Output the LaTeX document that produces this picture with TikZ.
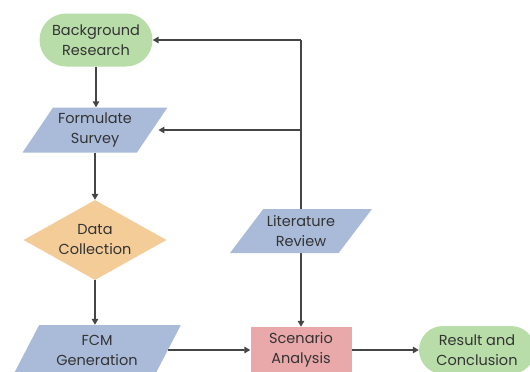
\documentclass[tikz,border=0pt]{standalone}
\usepackage{fontspec}
\setmainfont{Poppins}
\usetikzlibrary{shapes.geometric,arrows.meta,backgrounds}
\definecolor{grn}{HTML}{B9DDA9}
\definecolor{blu}{HTML}{AABBDA}
\definecolor{org}{HTML}{F3CC98}
\definecolor{pnk}{HTML}{E9A8AA}
\definecolor{ln}{HTML}{454545}
\definecolor{txt}{HTML}{333333}
\begin{document}
\begin{tikzpicture}[x=1pt,y=-1pt,
  every node/.style={font=\fontsize{14.5}{20}\selectfont, text=txt, align=center, inner sep=0pt},
  term/.style={rectangle, fill=grn},
  para/.style={trapezium, trapezium stretches=true, fill=blu},
  dec/.style={diamond, fill=org, aspect=1.79, inner sep=-12pt, minimum width=143pt, minimum height=80pt},
  proc/.style={rectangle, fill=pnk, minimum width=101pt, minimum height=46pt},
  con/.style={draw=ln, line width=1.8pt},
  arr/.style={con, -{Triangle[length=6pt,width=6.5pt]}}]
\clip (0,0) rectangle (530,372);
\node[term, rounded corners=26.5pt, minimum width=113pt, minimum height=53pt] (bg) at (96,40) {Background\\Research};
\node[para, trapezium left angle=52, trapezium right angle=128, minimum width=145pt, minimum height=45pt] (fs) at (95,130) {Formulate\\Survey};
\node[dec] (dc) at (95,240) {Data\\Collection};
\node[para, trapezium left angle=46, trapezium right angle=134, minimum width=142pt, minimum height=44pt] (lit) at (301,231) {Literature\\Review};
\node[para, trapezium left angle=59, trapezium right angle=121, minimum width=168pt, minimum height=50pt] (fcm) at (97,350) {FCM\\Generation};
\node[proc] (sa) at (301,350) {Scenario\\Analysis};
\node[term, rounded corners=24pt, minimum width=116pt, minimum height=48pt] (rc) at (477,350) {Result and\\Conclusion};
\coordinate (top) at (301,40);
\coordinate (mid) at (301,130);
\begin{scope}[on background layer]
\draw[con] (lit.north) -- (top);
\draw[arr] (top) -- (bg.east);
\draw[arr, shorten >=6pt] (mid) -- (fs.east);
\draw[arr] (lit.south) -- (sa.north);
\draw[arr] (bg.south) -- (bg.south |- fs.north);
\draw[arr] (fs.south) -- (fs.south |- dc.north);
\draw[arr] (dc.south) -- (dc.south |- fcm.north);
\draw[arr] (fcm.east) -- (sa.west);
\draw[arr] (sa.east) -- (rc.west);
\end{scope}
\end{tikzpicture}
\end{document}
